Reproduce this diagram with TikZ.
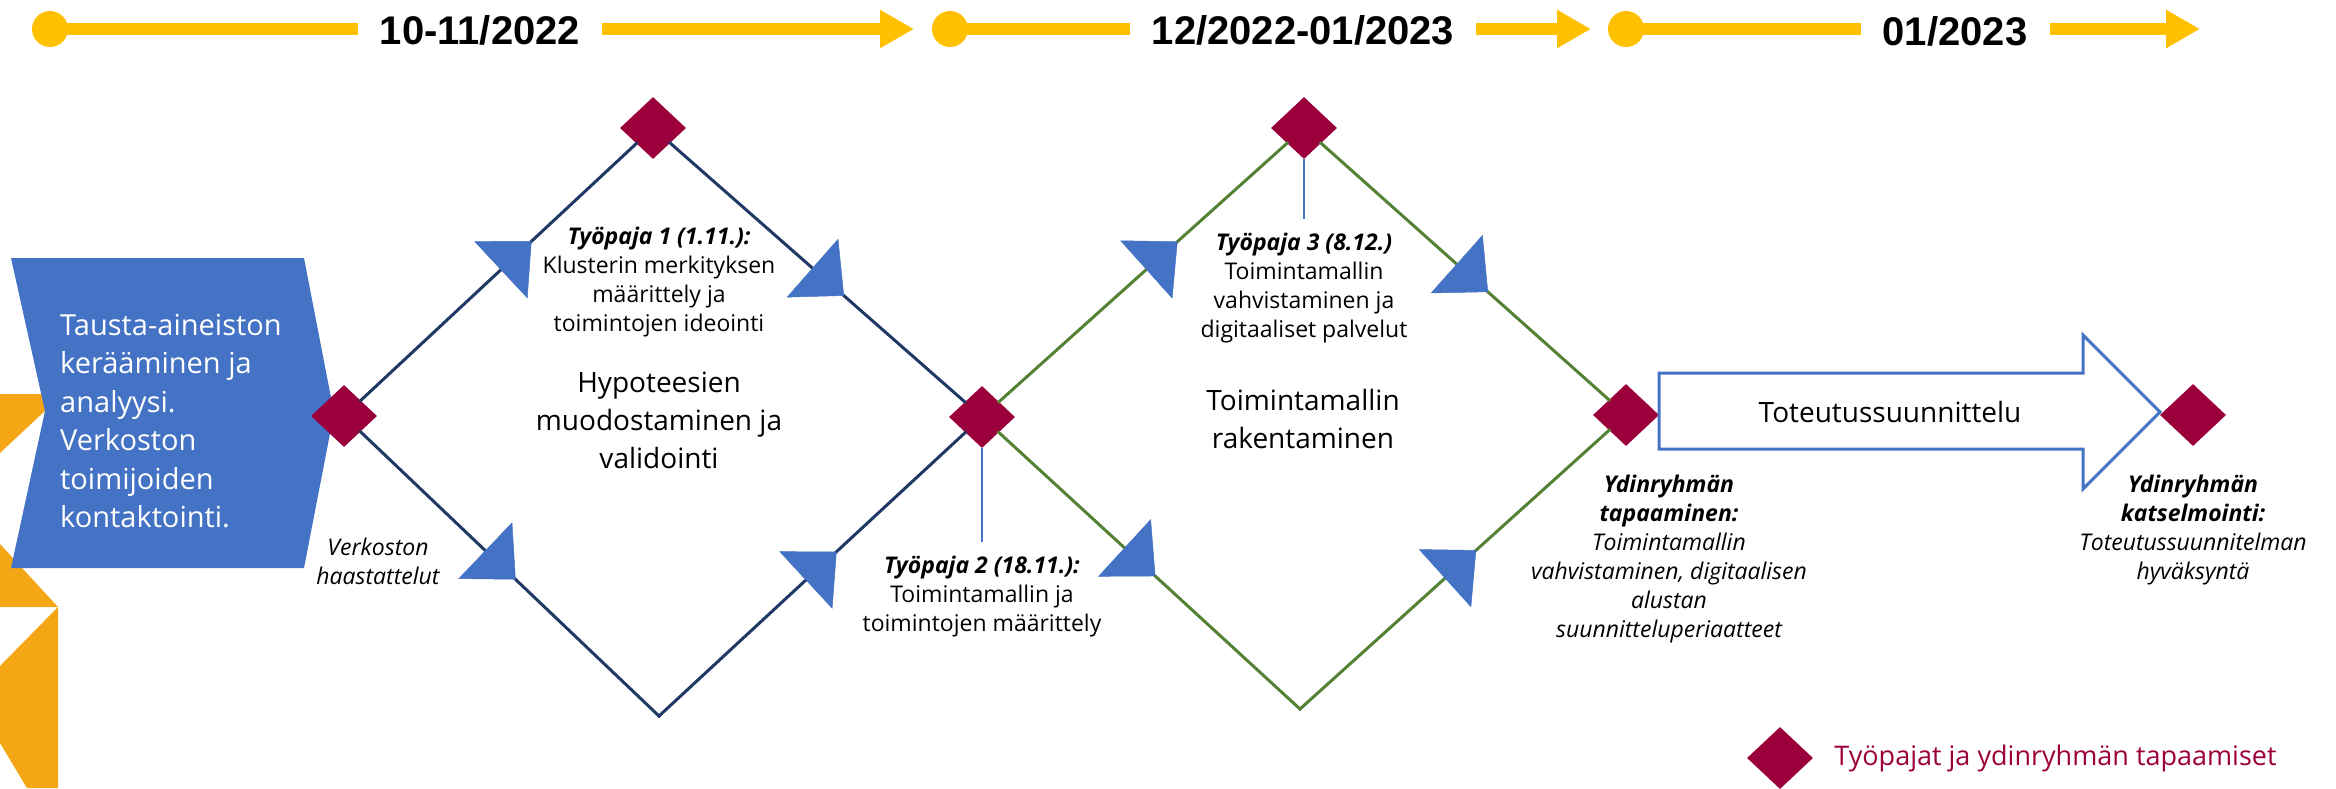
\documentclass[tikz,border=0pt]{standalone}
\usepackage{fontspec}
\setmainfont{Open Sans}
\newfontfamily\datefont{Liberation Sans}
\usetikzlibrary{shapes.geometric, arrows.meta, positioning, decorations.markings}
\definecolor{chevron}{RGB}{68,114,196}
\definecolor{gold}{RGB}{255,192,0}
\definecolor{amber}{RGB}{244,166,20}
\definecolor{crimson}{RGB}{156,0,60}
\definecolor{navy}{RGB}{32,56,100}
\definecolor{leaf}{RGB}{84,130,53}

\begin{document}
\begin{tikzpicture}[x=1pt, y=-1pt,
    flow/.style={postaction={decorate, decoration={markings,
      mark=at position #1 with {\arrow{Triangle[length=42pt, width=78pt, line width=0.5pt, color=chevron]}}}}}]
  \tikzstyle{meet} = [diamond, fill=crimson, inner sep=0pt, minimum width=66pt, minimum height=62pt]
  \tikzstyle{tdot} = [circle, fill=gold, inner sep=0pt, minimum size=36pt]
  \tikzstyle{tbar} = [draw=gold, line width=12pt]
  \tikzstyle{date} = [inner sep=0pt, font=\datefont\bfseries\fontsize{40}{46}\selectfont]
  \tikzstyle{note} = [inner sep=0pt, align=center, font=\fontsize{23}{29}\selectfont]
  \tikzstyle{notei} = [note, font=\fontsize{23}{29}\selectfont\itshape]
  \tikzstyle{phase} = [inner sep=0pt, align=center, font=\fontsize{28}{38}\selectfont]
  \tikzstyle{navyline} = [draw=navy, line width=3pt, line cap=rect]
  \tikzstyle{leafline} = [draw=leaf, line width=3pt, line cap=rect]
  \tikzstyle{stem} = [draw=chevron, line width=1.5pt]
  \useasboundingbox (0,0) rectangle (2336,788);

  % timeline
  \node [tdot] (dot1) at (50,29) {};
  \node [date] (date1) at (480,30) {10-11/2022};
  \coordinate (end1) at (914,29);
  \node [tdot] (dot2) at (950,29) {};
  \node [date] (date2) at (1303,30) {12/2022-01/2023};
  \coordinate (end2) at (1591,29);
  \node [tdot] (dot3) at (1626,29) {};
  \node [date] (date3) at (1955,31) {01/2023};
  \coordinate (end3) at (2200,29);
  \path [tbar] (dot1.center) -- ([xshift=-22pt]date1.west |- dot1);
  \path [tbar, -{Triangle[length=34pt, width=36pt]}] ([xshift=22pt]date1.east |- end1) -- (end1);
  \path [tbar] (dot2.center) -- ([xshift=-22pt]date2.west |- dot2);
  \path [tbar, -{Triangle[length=34pt, width=36pt]}] ([xshift=22pt]date2.east |- end2) -- (end2);
  \path [tbar] (dot3.center) -- ([xshift=-22pt]date3.west |- dot3);
  \path [tbar, -{Triangle[length=34pt, width=36pt]}] ([xshift=22pt]date3.east |- end3) -- (end3);

  % left edge
  \fill [amber] (0,394) -- (63,394) -- (0,453) -- cycle;
  \fill [amber] (0,544) -- (58,607) -- (0,607) -- cycle;
  \fill [amber] (0,666) -- (58,607) -- (58,788) -- (27,788) -- (0,743) -- cycle;
  \fill [chevron] (11,258) -- (304,258) -- (334,413) -- (304,568) -- (11,568) -- (45,411) -- cycle;
  \node [anchor=west, align=left, inner sep=0pt, text=white, font=\fontsize{29}{38.5}\selectfont] (intro) at (60,421)
    {Tausta-aineiston\\ kerääminen ja\\ analyysi.\\ Verkoston\\ toimijoiden\\ kontaktointi.};

  % Place nodes
  \node [meet] (d0) at (344,416) {};
  \node [meet] (d1) at (653,128) {};
  \node [meet] (d2) at (982,417) {};
  \node [meet] (d3) at (1304,128) {};
  \node [meet] (d4) at (1626,415) {};
  \node [meet] (d5) at (2193,415) {};
  \coordinate (low1) at (659,716);
  \coordinate (low2) at (1300,709);
  \coordinate (s2) at (982,542);
  \coordinate (s3) at (1304,219);

  %paths
  \path [navyline, flow=0.62] (d0) -- (d1);
  \path [navyline, flow=0.59] (d1) -- (d2);
  \path [navyline, flow=0.52] (d0) -- (low1);
  \path [navyline, flow=0.58] (low1) -- (d2);
  \path [leafline, flow=0.62] (d2) -- (d3);
  \path [leafline, flow=0.58] (d3) -- (d4);
  \path [leafline, flow=0.52] (d2) -- (low2);
  \path [leafline, flow=0.57] (low2) -- (d4);
  \path [stem] (d2) -- (s2);
  \path [stem] (d3) -- (s3);

  % labels
  \node [note] (w1) at (659,282) {\textbf{\textit{Työpaja 1 (1.11.):}}\\ Klusterin merkityksen\\ määrittely ja\\ toimintojen ideointi};
  \node [phase] (p1) at (659,420) {Hypoteesien\\ muodostaminen ja\\ validointi};
  \node [notei] (talks) at (378,561) {Verkoston\\ haastattelut};
  \node [note] (w2) at (982,597) {\textbf{\textit{Työpaja 2 (18.11.):}}\\ Toimintamallin ja\\ toimintojen määrittely};
  \node [note] (w3) at (1304,288) {\textbf{\textit{Työpaja 3 (8.12.)}}\\ Toimintamallin\\ vahvistaminen ja\\ digitaaliset palvelut};
  \node [phase] (p2) at (1303,419) {Toimintamallin\\ rakentaminen};
  \node [notei] (m1) at (1669,559) {\textbf{Ydinryhmän}\\ \textbf{tapaaminen:}\\ Toimintamallin\\ vahvistaminen, digitaalisen\\ alustan\\ suunnitteluperiaatteet};
  \node [notei] (m2) at (2193,530) {\textbf{Ydinryhmän}\\ \textbf{katselmointi:}\\ Toteutussuunnitelman\\ hyväksyntä};

  % implementation arrow
  \draw [chevron, line width=3pt] (1659,373) -- (2083,373) -- (2083,335) -- (2160,412) -- (2083,489) -- (2083,449) -- (1659,449) -- cycle;
  \node [phase] (impl) at (1890,412) {Toteutussuunnittelu};

  % legend
  \node [meet] (key) at (1780,758) {};
  \node [right=21pt of key, inner sep=0pt, text=crimson, font=\fontsize{27}{32}\selectfont] (keytext) {Työpajat ja ydinryhmän tapaamiset};

\end{tikzpicture}
\end{document}
